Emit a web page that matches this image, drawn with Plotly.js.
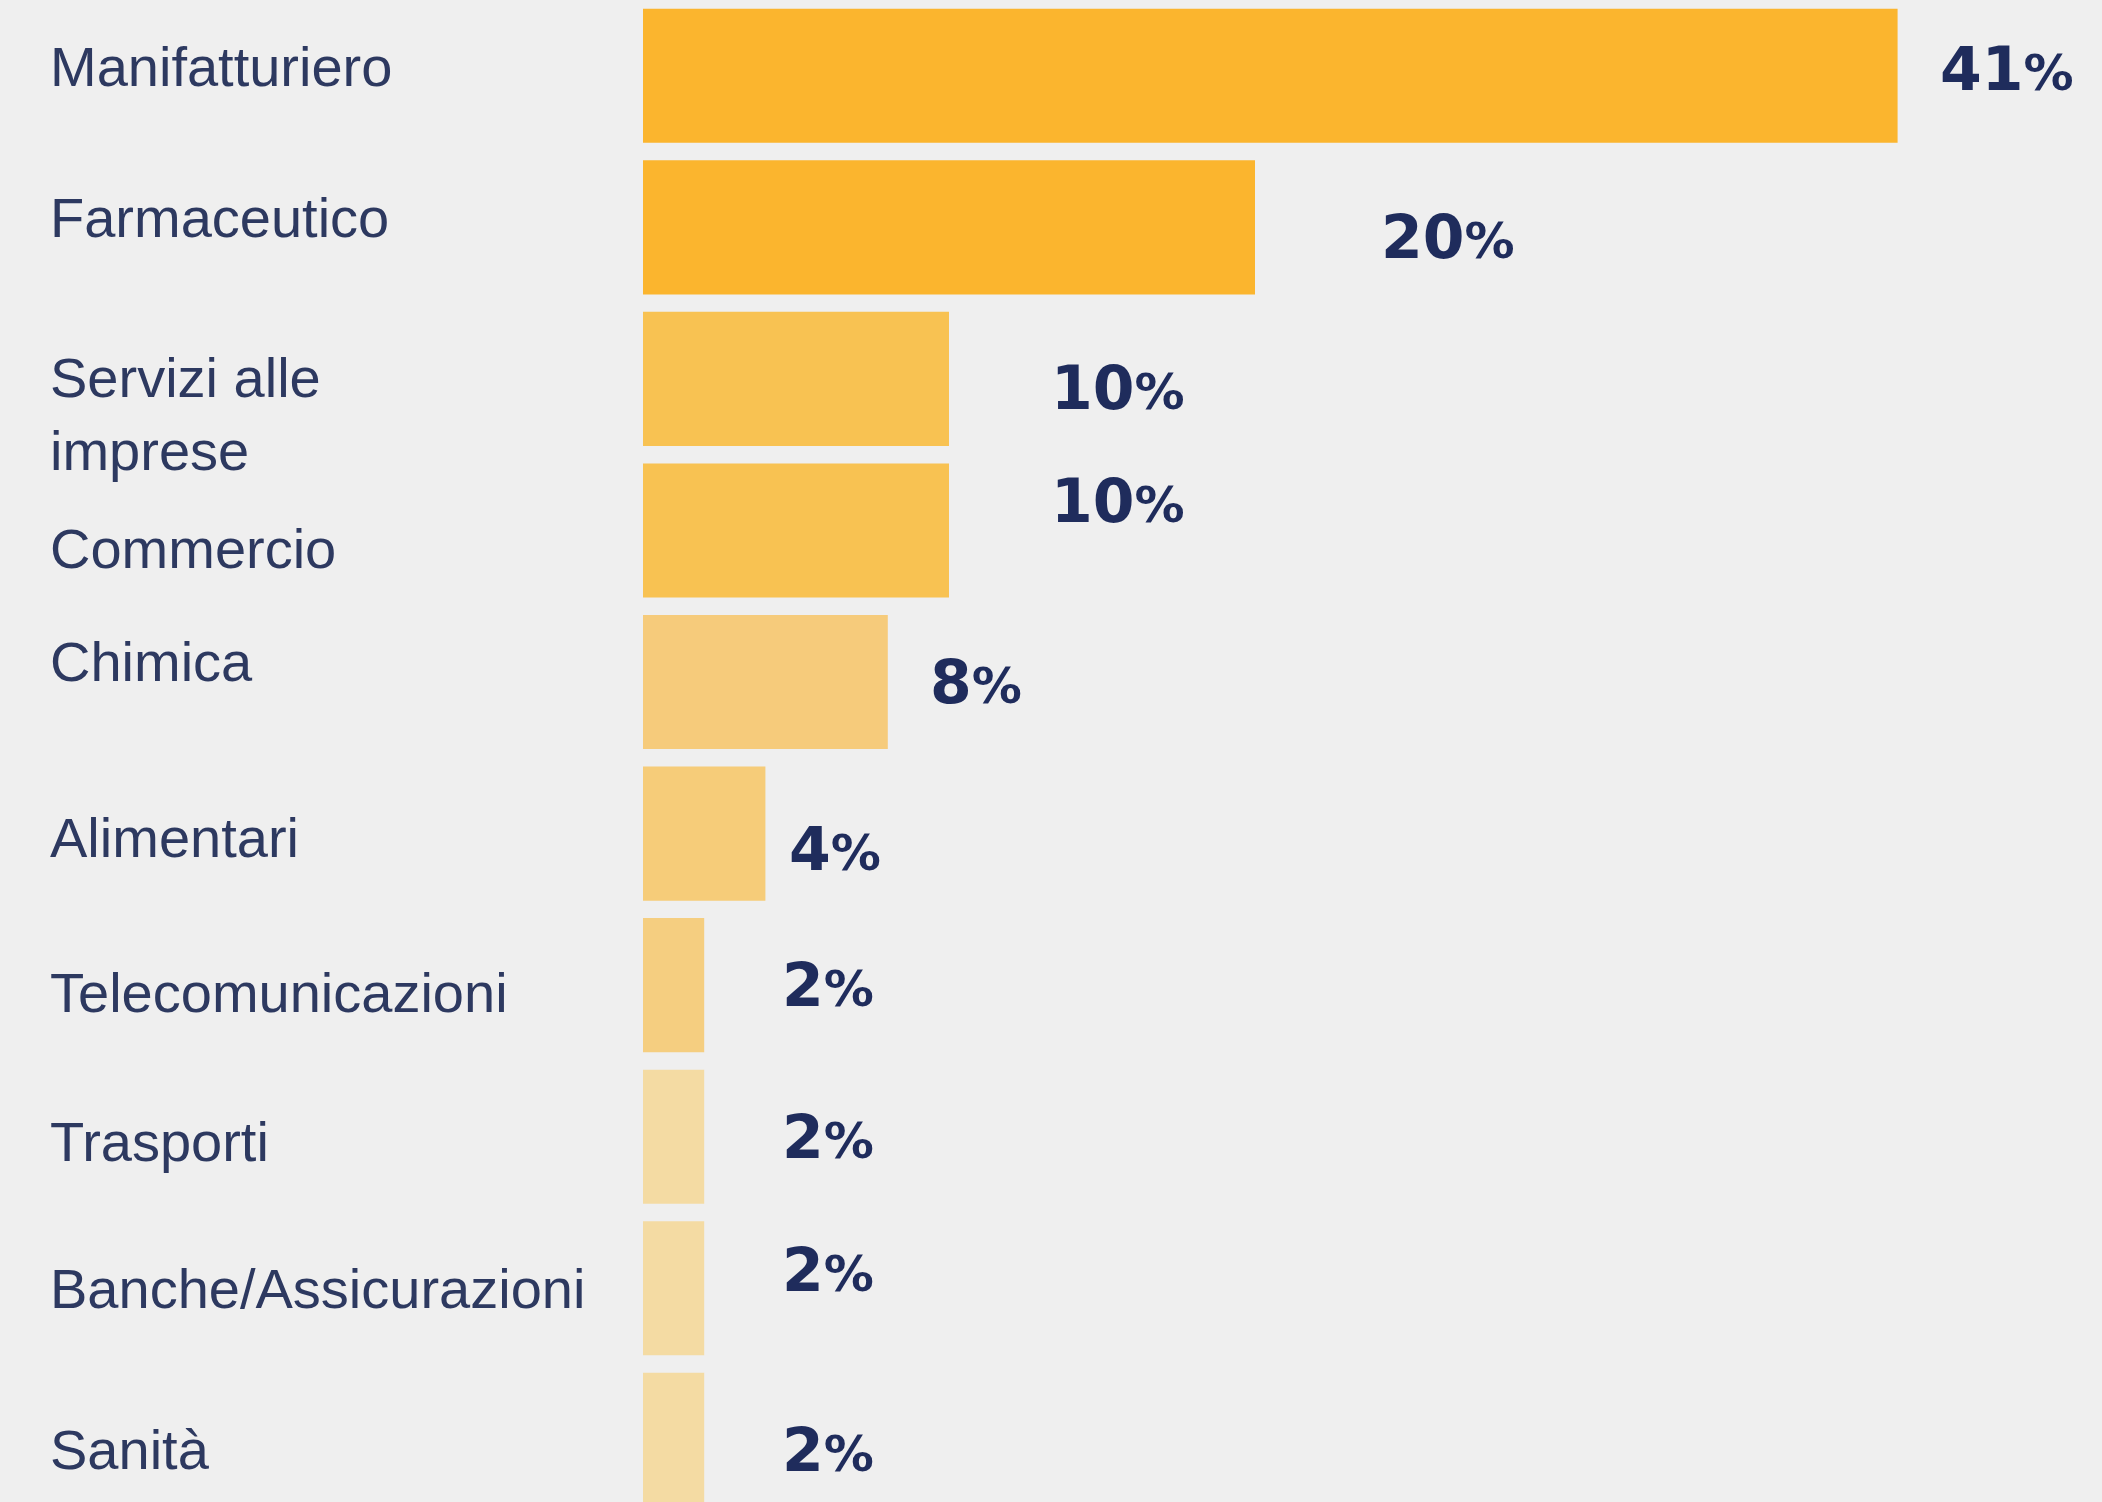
<!DOCTYPE html>
<html>
<head>
<meta charset="utf-8">
<script src="https://cdn.plot.ly/plotly-3.0.1.min.js"></script>
<style>
html,body{margin:0;padding:0;background:#EFEFEF;}
#chart{width:2102px;height:1502px;}
</style>
</head>
<body>
<div id="chart"></div>
<script>
// ---- data ----
const categories = ["Manifatturiero","Farmaceutico","Servizi alle<br>imprese","Commercio","Chimica","Alimentari","Telecomunicazioni","Trasporti","Banche/Assicurazioni","Sanità"];
const values = [41, 20, 10, 10, 8, 4, 2, 2, 2, 2];
const valueLabels = ["41", "20", "10", "10", "8", "4", "2", "2", "2", "2"];

// ---- styling / layout helpers ----
const barColors = ["#FBB52E","#FBB52E","#F8C252","#F8C252","#F6CB7B","#F6CC79","#F5CE80","#F4DBA3","#F4DBA3","#F4DBA3"];
const valueDx = [40, 124, 100, 100, 40, 22, 76, 76, 76, 76];      // px from bar end
const valueDy = [7, -10, -9, 29, 0, -15, 0, 0, 18, -10];          // px (up positive)
const catDy   = [9, 10, -35, -18, 21, -4, -7, -5, 0, -10];        // px (up positive)

const W = 2102, H = 1502, L = 643;
const idx = categories.map((c, i) => i);

const trace = {
  type: 'bar',
  orientation: 'h',
  x: values,
  y: idx,
  marker: {color: barColors, line: {width: 0}},
  hoverinfo: 'skip',
  showlegend: false
};

const annotations = [];
categories.forEach((c, i) => {
  annotations.push({
    xref: 'paper', yref: 'y',
    x: (48 - L) / (W - L), y: i,
    xanchor: 'left', yanchor: 'middle', align: 'left',
    text: c, showarrow: false,
    yshift: catDy[i],
    font: {family: 'Liberation Sans, Arial, sans-serif', size: 56, color: '#2D3960'}
  });
  annotations.push({
    xref: 'x', yref: 'y',
    x: values[i], y: i,
    xanchor: 'left', yanchor: 'middle',
    text: '<b>' + valueLabels[i] + '</b><span style="font-size:50px"><b>%</b></span>',
    showarrow: false,
    xshift: valueDx[i], yshift: valueDy[i],
    font: {family: 'DejaVu Sans, sans-serif', size: 60, color: '#1F2C5C'}
  });
});

const layout = {
  width: W, height: H,
  margin: {l: L, r: 0, t: 0, b: 0, pad: 0},
  paper_bgcolor: '#EFEFEF',
  plot_bgcolor: '#EFEFEF',
  bargap: 0.115,
  xaxis: {range: [0, (W - L) / 30.6], visible: false, fixedrange: true},
  yaxis: {range: [9.41, -0.5], visible: false, fixedrange: true},
  annotations: annotations
};

Plotly.newPlot('chart', [trace], layout, {displayModeBar: false, staticPlot: true});
</script>
</body>
</html>
